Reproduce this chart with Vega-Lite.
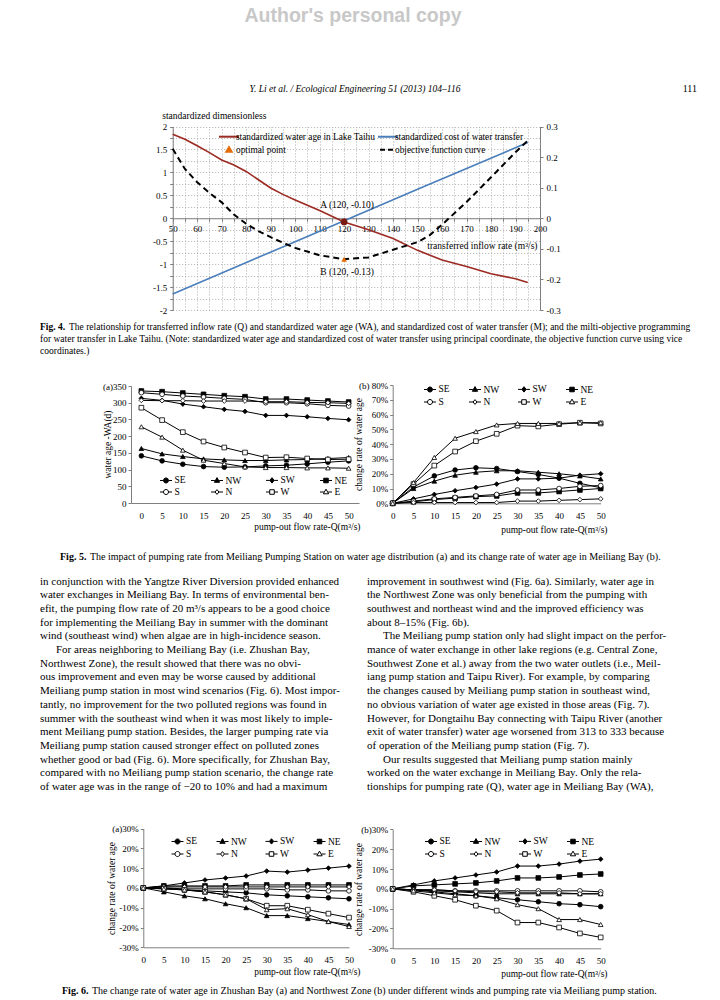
{
"$schema": "https://vega.github.io/schema/vega-lite/v6.json",
"width": 720, "height": 1000, "autosize": {"type": "none"}, "padding": 0, "background": "white",
"config": {
  "view": {"stroke": null},
  "font": "Liberation Serif",
  "axis": {"labelFont": "Liberation Serif", "titleFont": "Liberation Serif", "labelColor": "black", "titleColor": "black", "titleFontWeight": "normal", "labelFontSize": 9, "titleFontSize": 9.5, "domainColor": "#7f7f7f", "tickColor": "#7f7f7f", "labelFlush": false, "labelOverlap": false, "grid": false},
  "legend": {"labelFont": "Liberation Serif", "labelColor": "black"},
  "text": {"font": "Liberation Serif", "color": "black"}
},
"datasets": {
  "f4": [
    {"q":50,"wa":1.83,"obj":0.227,"cost":-1.65},
    {"q":55,"wa":1.72,"obj":0.161},
    {"q":60,"wa":1.58,"obj":0.118},
    {"q":65,"wa":1.43,"obj":0.083},
    {"q":70,"wa":1.27,"obj":0.052},
    {"q":75,"wa":1.16,"obj":0.012},
    {"q":80,"wa":1.02,"obj":-0.018},
    {"q":85,"wa":0.84,"obj":-0.042},
    {"q":90,"wa":0.66,"obj":-0.062},
    {"q":95,"wa":0.52,"obj":-0.08},
    {"q":100,"wa":0.40,"obj":-0.097,"cost":-0.51},
    {"q":110,"wa":0.17,"obj":-0.121},
    {"q":120,"wa":-0.08,"obj":-0.134},
    {"q":130,"wa":-0.25,"obj":-0.128},
    {"q":140,"wa":-0.44,"obj":-0.103},
    {"q":150,"wa":-0.70,"obj":-0.078,"cost":0.63},
    {"q":155,"obj":-0.055},
    {"q":160,"wa":-0.91,"obj":-0.021},
    {"q":170,"wa":-1.05,"obj":0.053},
    {"q":180,"wa":-1.21,"obj":0.134},
    {"q":190,"wa":-1.32,"obj":0.216},
    {"q":195,"wa":-1.40,"obj":0.254,"cost":1.65}
  ],
  "f5a": [
    {"q":0,"SE":141,"NW":163,"SW":313,"NE":335,"S":330,"N":307,"W":285,"E":228},
    {"q":5,"SE":126,"NW":147,"SW":307,"NE":333,"S":325,"N":306,"W":248,"E":197},
    {"q":10,"SE":116,"NW":139,"SW":296,"NE":329,"S":320,"N":306,"W":212,"E":158},
    {"q":15,"SE":109,"NW":132,"SW":288,"NE":325,"S":317,"N":305,"W":184,"E":128},
    {"q":20,"SE":107,"NW":129,"SW":280,"NE":321,"S":313,"N":305,"W":166,"E":118},
    {"q":25,"SE":108,"NW":127,"SW":274,"NE":318,"S":310,"N":305,"W":151,"E":108},
    {"q":30,"SE":111,"NW":127,"SW":262,"NE":311,"S":300,"N":303,"W":136,"E":106},
    {"q":35,"SE":113,"NW":129,"SW":262,"NE":311,"S":300,"N":303,"W":137,"E":106},
    {"q":40,"SE":117,"NW":130,"SW":258,"NE":308,"S":297,"N":301,"W":133,"E":105},
    {"q":45,"SE":122,"NW":133,"SW":253,"NE":305,"S":292,"N":300,"W":130,"E":105},
    {"q":50,"SE":126,"NW":136,"SW":249,"NE":302,"S":290,"N":298,"W":131,"E":104}
  ],
  "f5b": [
    {"q":0,"SE":0,"NW":0,"SW":0,"NE":0,"S":0,"N":0,"W":0,"E":0},
    {"q":5,"SE":11,"NW":10,"SW":3,"NE":1,"S":1.5,"N":0.5,"W":13,"E":14},
    {"q":10,"SE":18.5,"NW":15,"SW":6,"NE":2.5,"S":3,"N":0.5,"W":25.5,"E":31},
    {"q":15,"SE":22.5,"NW":19,"SW":8.5,"NE":3.5,"S":4,"N":0.5,"W":35,"E":44},
    {"q":20,"SE":24,"NW":21,"SW":10.7,"NE":4.5,"S":5,"N":0.5,"W":42,"E":48.5},
    {"q":25,"SE":23.5,"NW":22,"SW":13,"NE":5,"S":6,"N":0.5,"W":47,"E":53},
    {"q":30,"SE":21.5,"NW":22,"SW":16.5,"NE":7,"S":9,"N":1.5,"W":52.5,"E":54},
    {"q":35,"SE":19.5,"NW":21,"SW":16.5,"NE":7,"S":9,"N":1.5,"W":52,"E":54},
    {"q":40,"SE":17,"NW":20,"SW":17,"NE":8,"S":10,"N":2,"W":53.5,"E":54},
    {"q":45,"SE":13.5,"NW":18.5,"SW":19,"NE":9,"S":11.5,"N":2.5,"W":54.5,"E":54.5},
    {"q":50,"SE":10.5,"NW":16.5,"SW":20,"NE":10,"S":12,"N":3,"W":54,"E":54.5}
  ],
  "f6a": [
    {"q":0,"SE":0,"NW":0,"SW":0,"NE":0,"S":0,"N":0,"W":0,"E":0},
    {"q":5,"SE":0,"NW":-2,"SW":1,"NE":1,"S":0,"N":0.5,"W":-0.5,"E":-0.5},
    {"q":10,"SE":-1,"NW":-4,"SW":2.5,"NE":1,"S":-0.5,"N":0.5,"W":-1,"E":-1},
    {"q":15,"SE":-1.5,"NW":-5.5,"SW":4,"NE":1,"S":-0.5,"N":0.5,"W":-2,"E":-2},
    {"q":20,"SE":-2,"NW":-8,"SW":5,"NE":1,"S":-0.5,"N":0.5,"W":-3.5,"E":-3.5},
    {"q":25,"SE":-2.5,"NW":-10,"SW":6,"NE":1.5,"S":-0.5,"N":0.5,"W":-5.5,"E":-5.5},
    {"q":30,"SE":-3.5,"NW":-14,"SW":8.5,"NE":1.5,"S":-0.5,"N":0.5,"W":-9,"E":-11},
    {"q":35,"SE":-4,"NW":-14,"SW":8,"NE":1.5,"S":-1,"N":0.5,"W":-9,"E":-10.5},
    {"q":40,"SE":-4.5,"NW":-15.5,"SW":9,"NE":1.5,"S":-1,"N":0.5,"W":-11,"E":-13.5},
    {"q":45,"SE":-5,"NW":-17,"SW":10,"NE":1.5,"S":-1.5,"N":0.5,"W":-13,"E":-17},
    {"q":50,"SE":-5.5,"NW":-18.5,"SW":11,"NE":1.5,"S":-1.5,"N":0.5,"W":-15,"E":-19.5}
  ],
  "f6b": [
    {"q":0,"SE":0,"NW":0,"SW":0,"NE":0,"S":0,"N":0,"W":0,"E":0},
    {"q":5,"SE":-0.5,"NW":-0.5,"SW":2,"NE":1.5,"S":-0.5,"N":-0.5,"W":-1.5,"E":-1},
    {"q":10,"SE":-1.5,"NW":-1,"SW":4,"NE":2,"S":-0.5,"N":-0.5,"W":-3.5,"E":-2},
    {"q":15,"SE":-2.5,"NW":-1.5,"SW":5.5,"NE":2.5,"S":-1,"N":-1,"W":-5.5,"E":-3},
    {"q":20,"SE":-3.5,"NW":-2,"SW":7,"NE":3,"S":-1,"N":-1.5,"W":-8.5,"E":-3.5},
    {"q":25,"SE":-4.5,"NW":-2.5,"SW":8.5,"NE":4,"S":-1,"N":-1.5,"W":-11,"E":-5},
    {"q":30,"SE":-5.5,"NW":-2.5,"SW":11.5,"NE":5.5,"S":-1,"N":-2,"W":-17,"E":-8},
    {"q":35,"SE":-6.5,"NW":-2.5,"SW":11.5,"NE":5.5,"S":-1,"N":-2,"W":-17,"E":-10},
    {"q":40,"SE":-7.5,"NW":-2.5,"SW":12.5,"NE":6,"S":-1,"N":-2,"W":-19.5,"E":-15.5},
    {"q":45,"SE":-8,"NW":-2.5,"SW":14,"NE":7,"S":-1,"N":-2.5,"W":-22.5,"E":-15.5},
    {"q":50,"SE":-9,"NW":-2.5,"SW":15,"NE":7.5,"S":-1.5,"N":-2.5,"W":-24.5,"E":-18}
  ],
  "body": [
    {"c":0,"l":1,"p":0,"t":"in conjunction with the Yangtze River Diversion provided enhanced"},
    {"c":0,"l":2,"p":0,"t":"water exchanges in Meiliang Bay. In terms of environmental ben-"},
    {"c":0,"l":3,"p":0,"t":"efit, the pumping flow rate of 20 m³/s appears to be a good choice"},
    {"c":0,"l":4,"p":0,"t":"for implementing the Meiliang Bay in summer with the dominant"},
    {"c":0,"l":5,"p":0,"t":"wind (southeast wind) when algae are in high-incidence season."},
    {"c":0,"l":6,"p":1,"t":"For areas neighboring to Meiliang Bay (i.e. Zhushan Bay,"},
    {"c":0,"l":7,"p":0,"t":"Northwest Zone), the result showed that there was no obvi-"},
    {"c":0,"l":8,"p":0,"t":"ous improvement and even may be worse caused by additional"},
    {"c":0,"l":9,"p":0,"t":"Meiliang pump station in most wind scenarios (Fig. 6). Most impor-"},
    {"c":0,"l":10,"p":0,"t":"tantly, no improvement for the two polluted regions was found in"},
    {"c":0,"l":11,"p":0,"t":"summer with the southeast wind when it was most likely to imple-"},
    {"c":0,"l":12,"p":0,"t":"ment Meiliang pump station. Besides, the larger pumping rate via"},
    {"c":0,"l":13,"p":0,"t":"Meiliang pump station caused stronger effect on polluted zones"},
    {"c":0,"l":14,"p":0,"t":"whether good or bad (Fig. 6). More specifically, for Zhushan Bay,"},
    {"c":0,"l":15,"p":0,"t":"compared with no Meiliang pump station scenario, the change rate"},
    {"c":0,"l":16,"p":0,"t":"of water age was in the range of −20 to 10% and had a maximum"},
    {"c":1,"l":1,"p":0,"t":"improvement in southwest wind (Fig. 6a). Similarly, water age in"},
    {"c":1,"l":2,"p":0,"t":"the Northwest Zone was only beneficial from the pumping with"},
    {"c":1,"l":3,"p":0,"t":"southwest and northeast wind and the improved efficiency was"},
    {"c":1,"l":4,"p":0,"t":"about 8–15% (Fig. 6b)."},
    {"c":1,"l":5,"p":1,"t":"The Meiliang pump station only had slight impact on the perfor-"},
    {"c":1,"l":6,"p":0,"t":"mance of water exchange in other lake regions (e.g. Central Zone,"},
    {"c":1,"l":7,"p":0,"t":"Southwest Zone et al.) away from the two water outlets (i.e., Meil-"},
    {"c":1,"l":8,"p":0,"t":"iang pump station and Taipu River). For example, by comparing"},
    {"c":1,"l":9,"p":0,"t":"the changes caused by Meiliang pump station in southeast wind,"},
    {"c":1,"l":10,"p":0,"t":"no obvious variation of water age existed in those areas (Fig. 7)."},
    {"c":1,"l":11,"p":0,"t":"However, for Dongtaihu Bay connecting with Taipu River (another"},
    {"c":1,"l":12,"p":0,"t":"exit of water transfer) water age worsened from 313 to 333 because"},
    {"c":1,"l":13,"p":0,"t":"of operation of the Meiliang pump station (Fig. 7)."},
    {"c":1,"l":14,"p":1,"t":"Our results suggested that Meiliang pump station mainly"},
    {"c":1,"l":15,"p":0,"t":"worked on the water exchange in Meiliang Bay. Only the rela-"},
    {"c":1,"l":16,"p":0,"t":"tionships for pumping rate (Q), water age in Meiliang Bay (WA),"}
  ]
},
"layer": [
  {"data": {"values": [{"c":0.5,"l":0,"t":"Author's personal copy"}]},
   "mark": {"type":"text","font":"Liberation Sans","fontWeight":"bold","fontSize":19.5,"color":"#c8c8c8","align":"center","baseline":"middle"},
   "encoding": {"x": {"field":"c","type":"quantitative","scale":{"domain":[0,1],"range":[0,706],"zero":false,"nice":false},"axis":null},
                "y": {"field":"l","type":"quantitative","scale":{"domain":[0,1],"range":[16,89],"zero":false,"nice":false},"axis":null},
                "text": {"field":"t"}}},
  {"data": {"values": [{"c":0.5,"l":1,"t":"Y. Li et al. / Ecological Engineering 51 (2013) 104–116"}]},
   "mark": {"type":"text","fontStyle":"italic","fontSize":9.5,"align":"center","baseline":"middle"},
   "encoding": {"x": {"field":"c","type":"quantitative","scale":{"domain":[0,1],"range":[0,710],"zero":false,"nice":false},"axis":null},
                "y": {"field":"l","type":"quantitative","scale":{"domain":[0,1],"range":[16,89],"zero":false,"nice":false},"axis":null},
                "text": {"field":"t"}}},
  {"data": {"values": [{"c":1,"l":1,"t":"111"}]},
   "mark": {"type":"text","fontSize":10,"align":"right","baseline":"middle"},
   "encoding": {"x": {"field":"c","type":"quantitative","scale":{"domain":[0,1],"range":[0,697],"zero":false,"nice":false},"axis":null},
                "y": {"field":"l","type":"quantitative","scale":{"domain":[0,1],"range":[16,89],"zero":false,"nice":false},"axis":null},
                "text": {"field":"t"}}},

  {"data": {"name": "f4"},
   "layer": [
     {"encoding": {"x": {"field":"q","type":"quantitative",
        "scale":{"domain":[50,200],"range":[172.7,540],"nice":false,"zero":false},
        "axis":{"orient":"bottom","offset":-781.75,"values":[50,55,60,65,70,75,80,85,90,95,100,105,110,115,120,125,130,135,140,145,150,155,160,165,170,175,180,185,190,195,200],
                "labelExpr":"datum.value % 10 === 0 ? datum.label : ''","grid":false,
                "tickSize":3,"labelPadding":3,"labelFontSize":9,"title":"transferred inflow rate (m³/s)","titleX":537,"titleY":27,"titleAlign":"right","titleBaseline":"middle","titleFontSize":9.5}}},
      "layer": [
        {"transform": [{"filter": "isValid(datum.cost)"}],
         "mark": {"type":"line","color":"#4a7ebb","strokeWidth":1.6},
         "encoding": {"y": {"field":"cost","type":"quantitative","scale":{"domain":[-2,2],"range":[310,126.5],"nice":false,"zero":false},
            "axis":{"orient":"left","offset":-172.7,"values":[-2,-1.75,-1.5,-1.25,-1,-0.75,-0.5,-0.25,0,0.25,0.5,0.75,1,1.25,1.5,1.75,2],
                    "labelExpr":"datum.value % 0.5 === 0 ? '' + datum.value : ''","grid":true,"gridColor":"#9a9a9a","gridDash":[1,2],"gridWidth":0.8,
                    "tickSize":3,"labelPadding":3,"labelFontSize":9,"title":"standardized dimensionless","titleAngle":0,"titleX":-11,"titleY":115,"titleAlign":"left","titleBaseline":"middle","titleFontSize":9.5}}}},
        {"transform": [{"filter": "isValid(datum.wa)"}],
         "mark": {"type":"line","color":"#9c2a22","strokeWidth":1.6},
         "encoding": {"y": {"field":"wa","type":"quantitative"}}},
        {"data": {"values": [{"q":120,"v":-0.08,"t":"A (120, -0.10)"}]},
         "mark": {"type":"point","filled":true,"color":"#7a1a12","size":45,"opacity":1},
         "encoding": {"y": {"field":"v","type":"quantitative"}}},
        {"data": {"values": [{"q":120,"v":-0.08,"t":"A (120, -0.10)"}]},
         "mark": {"type":"text","dy":-17,"dx":3,"fontSize":9.5,"align":"center","baseline":"middle"},
         "encoding": {"y": {"field":"v","type":"quantitative"},"text":{"field":"t"}}}
      ]},
     {"encoding": {"x": {"field":"q","type":"quantitative",
        "axis":{"orient":"top","offset":0,"values":[50,55,60,65,70,75,80,85,90,95,100,105,110,115,120,125,130,135,140,145,150,155,160,165,170,175,180,185,190,195,200],
                "grid":true,"gridColor":"#9a9a9a","gridDash":[1,2],"gridWidth":0.8,"labels":false,"ticks":false,"domain":false,"title":null}}},
      "layer": [
        {"transform": [{"filter": "isValid(datum.obj)"}],
         "mark": {"type":"line","color":"black","strokeWidth":2,"strokeDash":[6,4]},
         "encoding": {"y": {"field":"obj","type":"quantitative","scale":{"domain":[-0.3,0.3],"range":[310,126.5],"nice":false,"zero":false},
            "axis":{"orient":"right","offset":-180,"values":[-0.3,-0.2,-0.1,0,0.1,0.2,0.3],"labelExpr":"'' + datum.value","grid":false,"tickSize":3,"labelPadding":3,"labelFontSize":9,"title":null}}}},
        {"data": {"values": [{"q":120,"v":-0.134,"t":"B (120, -0.13)"}]},
         "mark": {"type":"point","filled":true,"shape":"triangle-up","color":"#e46c0a","size":32,"opacity":1},
         "encoding": {"y": {"field":"v","type":"quantitative"}}},
        {"data": {"values": [{"q":120,"v":-0.134,"t":"B (120, -0.13)"}]},
         "mark": {"type":"text","dy":13,"dx":3,"fontSize":9.5,"align":"center","baseline":"middle"},
         "encoding": {"y": {"field":"v","type":"quantitative"},"text":{"field":"t"}}}
      ]},
     {"data": {"values": [{"s":"standardized water age in Lake Taihu"},{"s":"optimal point"}]},
      "mark": {"type":"point","filled":true,"opacity":0},
      "encoding": {
        "color": {"field":"s","type":"nominal","scale":{"domain":["standardized water age in Lake Taihu","optimal point"],"range":["#9c2a22","#e46c0a"]},
                  "legend":{"title":null,"orient":"none","legendX":220,"legendY":127.7,"symbolSize":144,"symbolStrokeWidth":2,"symbolOpacity":1,"labelFontSize":9.3,"labelOffset":0,"rowPadding":0,"padding":2,"labelLimit":300}},
        "stroke": {"field":"s","type":"nominal","scale":{"domain":["standardized water age in Lake Taihu","optimal point"],"range":["#9c2a22","#e46c0a"]},
                  "legend":{"title":null,"orient":"none","legendX":220,"legendY":127.7,"symbolSize":144,"symbolStrokeWidth":2,"symbolOpacity":1,"labelFontSize":9.3,"labelOffset":0,"rowPadding":0,"padding":2,"labelLimit":300}},
        "shape": {"field":"s","type":"nominal","scale":{"domain":["standardized water age in Lake Taihu","optimal point"],"range":["M-1.67,0H1.67","M0,-0.42L0.45,0.36L-0.45,0.36Z"]},
                  "legend":{"title":null,"orient":"none","legendX":220,"legendY":127.7,"symbolSize":144,"symbolStrokeWidth":2,"symbolOpacity":1,"labelFontSize":9.3,"labelOffset":0,"rowPadding":0,"padding":2,"labelLimit":300}}
      }},
     {"data": {"values": [{"s":"standardized cost of water transfer"},{"s":"objective function curve"}]},
      "mark": {"type":"point","filled":true,"opacity":0},
      "encoding": {
        "color": {"field":"s","type":"nominal","scale":{"domain":["standardized cost of water transfer","objective function curve"],"range":["#4a7ebb","#000000"]},
                  "legend":{"title":null,"orient":"none","legendX":379,"legendY":127.7,"symbolSize":144,"symbolStrokeWidth":2,"symbolOpacity":1,"labelFontSize":9.3,"labelOffset":0,"rowPadding":0,"padding":2,"labelLimit":300}},
        "stroke": {"field":"s","type":"nominal","scale":{"domain":["standardized cost of water transfer","objective function curve"],"range":["#4a7ebb","#000000"]},
                  "legend":{"title":null,"orient":"none","legendX":379,"legendY":127.7,"symbolSize":144,"symbolStrokeWidth":2,"symbolOpacity":1,"labelFontSize":9.3,"labelOffset":0,"rowPadding":0,"padding":2,"labelLimit":300}},
        "shape": {"field":"s","type":"nominal","scale":{"domain":["standardized cost of water transfer","objective function curve"],"range":["M-1.67,0H1.67","M-1.33,0H1.33"]},
                  "legend":{"title":null,"orient":"none","legendX":379,"legendY":127.7,"symbolSize":144,"symbolStrokeWidth":2,"symbolOpacity":1,"labelFontSize":9.3,"labelOffset":0,"rowPadding":0,"padding":2,"labelLimit":300}},
        "strokeDash": {"field":"s","type":"nominal","scale":{"domain":["standardized cost of water transfer","objective function curve"],"range":[[1,0],[5,3]]},
                  "legend":{"title":null,"orient":"none","legendX":379,"legendY":127.7,"symbolSize":144,"symbolStrokeWidth":2,"symbolOpacity":1,"labelFontSize":9.3,"labelOffset":0,"rowPadding":0,"padding":2,"labelLimit":300}}
      }}
   ],
   "resolve": {"scale": {"y": "independent", "color": "independent", "stroke": "independent", "shape": "independent", "strokeDash": "independent"}, "axis": {"x": "independent"}}
  },

  {"data": {"values": [{"c":0,"l":1,"t":"Fig. 4."}]},
   "mark": {"type":"text","fontSize":9.5,"fontWeight":"bold","align":"left","baseline":"middle"},
   "encoding": {"x": {"field":"c","type":"quantitative","scale":{"domain":[0,1],"range":[40,680],"zero":false,"nice":false},"axis":null},
                "y": {"field":"l","type":"quantitative","scale":{"domain":[1,3],"range":[327,351],"zero":false,"nice":false},"axis":null},
                "text": {"field":"t"}}},
  {"data": {"values": [{"c":0,"l":1,"t":"The relationship for transferred inflow rate (Q) and standardized water age (WA), and standardized cost of water transfer (M); and the milti-objective programming"}]},
   "mark": {"type":"text","fontSize":9.5,"align":"left","baseline":"middle","dx":29},
   "encoding": {"x": {"field":"c","type":"quantitative","scale":{"domain":[0,1],"range":[40,680],"zero":false,"nice":false},"axis":null},
                "y": {"field":"l","type":"quantitative","scale":{"domain":[1,3],"range":[327,351],"zero":false,"nice":false},"axis":null},
                "text": {"field":"t"}}},
  {"data": {"values": [{"c":0,"l":2,"t":"for water transfer in Lake Taihu. (Note: standardized water age and standardized cost of water transfer using principal coordinate, the objective function curve using vice"},{"c":0,"l":3,"t":"coordinates.)"}]},
   "mark": {"type":"text","fontSize":9.5,"align":"left","baseline":"middle"},
   "encoding": {"x": {"field":"c","type":"quantitative","scale":{"domain":[0,1],"range":[40,680],"zero":false,"nice":false},"axis":null},
                "y": {"field":"l","type":"quantitative","scale":{"domain":[1,3],"range":[327,351],"zero":false,"nice":false},"axis":null},
                "text": {"field":"t"}}},

  {"data": {"name": "f5a"},
   "transform": [{"fold": ["SE","NW","SW","NE","S","N","W","E"], "as": ["s","v"]}],
   "encoding": {
     "x": {"field":"q","type":"quantitative","scale":{"domain":[-2.5,52.5],"range":[131,359],"nice":false,"zero":false},
           "axis":{"orient":"bottom","offset":-497,"values":[0,5,10,15,20,25,30,35,40,45,50],"ticks":false,"labelPadding":8,"title":"pump-out flow rate-Q(m³/s)","titleX":360,"titleY":23,"titleAlign":"right","titleBaseline":"middle"}},
     "y": {"field":"v","type":"quantitative","scale":{"domain":[0,350],"range":[503,386],"nice":false,"zero":false},
           "axis":{"orient":"left","offset":-131,"values":[0,50,100,150,200,250,300,350],"labelExpr":"datum.value === 350 ? '(a)' + datum.label : datum.label","tickSize":3,"labelPadding":2,"title":"water age -WA(d)","titleX":-24,"titleY":444,"titleAngle":-90,"titleAlign":"center","titleBaseline":"middle"}}
   },
   "layer": [
     {"mark": {"type":"line","color":"black","strokeWidth":1}, "encoding": {"detail": {"field":"s"}}},
     {"mark": {"type":"point","filled":true,"stroke":"black","strokeWidth":0.8,"size":22,"opacity":1},
      "encoding": {"color": {"field":"s","type":"nominal","scale":{"domain":["SE","NW","SW","NE","S","N","W","E"],"range":["black","black","black","black","white","white","white","white"]},"legend":null},
                   "shape": {"field":"s","type":"nominal","scale":{"domain":["SE","NW","SW","NE","S","N","W","E"],"range":["circle","triangle-up","diamond","square","circle","diamond","square","triangle-up"]},"legend":null}}},
     {"mark": {"type":"point","filled":true,"opacity":0},
      "encoding": {
        "color": {"field":"s","type":"nominal","scale":{"domain":["SE","NW","SW","NE","S","N","W","E"],"range":["black","black","black","black","white","white","white","white"]},
          "legend":{"title":null,"orient":"none","direction":"horizontal","legendX":159.5,"legendY":473.5,"columns":4,"symbolSize":144,"symbolStrokeWidth":1,"symbolOpacity":1,"labelFontSize":9.5,"labelOffset":2,"columnPadding":22,"rowPadding":0,"padding":0}},
        "stroke": {"field":"s","type":"nominal","scale":{"domain":["SE","NW","SW","NE","S","N","W","E"],"range":["black","black","black","black","black","black","black","black"]},
          "legend":{"title":null,"orient":"none","direction":"horizontal","legendX":159.5,"legendY":473.5,"columns":4,"symbolSize":144,"symbolStrokeWidth":1,"symbolOpacity":1,"labelFontSize":9.5,"labelOffset":2,"columnPadding":22,"rowPadding":0,"padding":0}},
        "shape": {"field":"s","type":"nominal","scale":{"domain":["SE","NW","SW","NE","S","N","W","E"],"range":[
           "M-1,0H-0.42M0.42,0H1M0.42,0A0.42,0.42,0,1,1,-0.42,0A0.42,0.42,0,1,1,0.42,0Z",
           "M-1,0H-0.35M0.35,0H1M0,-0.48L0.44,0.3L-0.44,0.3Z",
           "M-1,0H-0.36M0.36,0H1M0,-0.45L0.36,0L0,0.45L-0.36,0Z",
           "M-1,0H-0.38M0.38,0H1M-0.38,-0.38H0.38V0.38H-0.38Z",
           "M-1,0H-0.42M0.42,0H1M0.42,0A0.42,0.42,0,1,1,-0.42,0A0.42,0.42,0,1,1,0.42,0Z",
           "M-1,0H-0.32M0.32,0H1M0,-0.4L0.32,0L0,0.4L-0.32,0Z",
           "M-1,0H-0.38M0.38,0H1M-0.38,-0.38H0.38V0.38H-0.38Z",
           "M-1,0H-0.35M0.35,0H1M0,-0.48L0.44,0.3L-0.44,0.3Z"]},
          "legend":{"title":null,"orient":"none","direction":"horizontal","legendX":159.5,"legendY":473.5,"columns":4,"symbolSize":144,"symbolStrokeWidth":1,"symbolOpacity":1,"labelFontSize":9.5,"labelOffset":2,"columnPadding":22,"rowPadding":0,"padding":0}}}}
   ],
   "resolve": {"scale": {"color": "independent", "shape": "independent", "stroke": "independent"}}
  },

  {"data": {"name": "f5b"},
   "transform": [{"fold": ["SE","NW","SW","NE","S","N","W","E"], "as": ["s","v"]}],
   "encoding": {
     "x": {"field":"q","type":"quantitative","scale":{"domain":[0,50],"range":[392.7,600.7],"nice":false,"zero":false},
           "axis":{"orient":"bottom","offset":-496.7,"values":[0,5,10,15,20,25,30,35,40,45,50],"ticks":false,"labelPadding":8,"title":"pump-out flow rate-Q(m³/s)","titleX":607,"titleY":26,"titleAlign":"right","titleBaseline":"middle"}},
     "y": {"field":"v","type":"quantitative","scale":{"domain":[0,80],"range":[503.3,385],"nice":false,"zero":false},
           "axis":{"orient":"left","offset":-392.7,"values":[0,10,20,30,40,50,60,70,80],"labelExpr":"datum.value === 80 ? '(b) 80%' : datum.value + '%'","tickSize":3,"labelPadding":2,"title":"change rate of water age","titleX":-34.7,"titleY":444,"titleAngle":-90,"titleAlign":"center","titleBaseline":"middle"}}
   },
   "layer": [
     {"mark": {"type":"line","color":"black","strokeWidth":1}, "encoding": {"detail": {"field":"s"}}},
     {"mark": {"type":"point","filled":true,"stroke":"black","strokeWidth":0.8,"size":22,"opacity":1},
      "encoding": {"color": {"field":"s","type":"nominal","scale":{"domain":["SE","NW","SW","NE","S","N","W","E"],"range":["black","black","black","black","white","white","white","white"]},"legend":null},
                   "shape": {"field":"s","type":"nominal","scale":{"domain":["SE","NW","SW","NE","S","N","W","E"],"range":["circle","triangle-up","diamond","square","circle","diamond","square","triangle-up"]},"legend":null}}},
     {"mark": {"type":"point","filled":true,"opacity":0},
      "encoding": {
        "color": {"field":"s","type":"nominal","scale":{"domain":["SE","NW","SW","NE","S","N","W","E"],"range":["black","black","black","black","white","white","white","white"]},
          "legend":{"title":null,"orient":"none","direction":"horizontal","legendX":423.5,"legendY":382.5,"columns":4,"symbolSize":144,"symbolStrokeWidth":1,"symbolOpacity":1,"labelFontSize":9.5,"labelOffset":2,"columnPadding":16,"rowPadding":1,"padding":0}},
        "stroke": {"field":"s","type":"nominal","scale":{"domain":["SE","NW","SW","NE","S","N","W","E"],"range":["black","black","black","black","black","black","black","black"]},
          "legend":{"title":null,"orient":"none","direction":"horizontal","legendX":423.5,"legendY":382.5,"columns":4,"symbolSize":144,"symbolStrokeWidth":1,"symbolOpacity":1,"labelFontSize":9.5,"labelOffset":2,"columnPadding":16,"rowPadding":1,"padding":0}},
        "shape": {"field":"s","type":"nominal","scale":{"domain":["SE","NW","SW","NE","S","N","W","E"],"range":[
           "M-1,0H-0.42M0.42,0H1M0.42,0A0.42,0.42,0,1,1,-0.42,0A0.42,0.42,0,1,1,0.42,0Z",
           "M-1,0H-0.35M0.35,0H1M0,-0.48L0.44,0.3L-0.44,0.3Z",
           "M-1,0H-0.36M0.36,0H1M0,-0.45L0.36,0L0,0.45L-0.36,0Z",
           "M-1,0H-0.38M0.38,0H1M-0.38,-0.38H0.38V0.38H-0.38Z",
           "M-1,0H-0.42M0.42,0H1M0.42,0A0.42,0.42,0,1,1,-0.42,0A0.42,0.42,0,1,1,0.42,0Z",
           "M-1,0H-0.32M0.32,0H1M0,-0.4L0.32,0L0,0.4L-0.32,0Z",
           "M-1,0H-0.38M0.38,0H1M-0.38,-0.38H0.38V0.38H-0.38Z",
           "M-1,0H-0.35M0.35,0H1M0,-0.48L0.44,0.3L-0.44,0.3Z"]},
          "legend":{"title":null,"orient":"none","direction":"horizontal","legendX":423.5,"legendY":382.5,"columns":4,"symbolSize":144,"symbolStrokeWidth":1,"symbolOpacity":1,"labelFontSize":9.5,"labelOffset":2,"columnPadding":16,"rowPadding":1,"padding":0}}}}
   ],
   "resolve": {"scale": {"color": "independent", "shape": "independent", "stroke": "independent"}}
  },

  {"data": {"values": [{"c":0,"l":1,"t":"Fig. 5."}]},
   "mark": {"type":"text","fontSize":10,"fontWeight":"bold","align":"left","baseline":"middle"},
   "encoding": {"x": {"field":"c","type":"quantitative","scale":{"domain":[0,1],"range":[60,680],"zero":false,"nice":false},"axis":null},
                "y": {"field":"l","type":"quantitative","scale":{"domain":[1,2],"range":[557,600],"zero":false,"nice":false},"axis":null},
                "text": {"field":"t"}}},
  {"data": {"values": [{"c":0,"l":1,"t":"The impact of pumping rate from Meiliang Pumping Station on water age distribution (a) and its change rate of water age in Meiliang Bay (b)."}]},
   "mark": {"type":"text","fontSize":10,"align":"left","baseline":"middle","dx":30},
   "encoding": {"x": {"field":"c","type":"quantitative","scale":{"domain":[0,1],"range":[60,680],"zero":false,"nice":false},"axis":null},
                "y": {"field":"l","type":"quantitative","scale":{"domain":[1,2],"range":[557,600],"zero":false,"nice":false},"axis":null},
                "text": {"field":"t"}}},

  {"data": {"name": "body"},
   "transform": [{"filter": "datum.p !== 1"}],
   "mark": {"type":"text","fontSize":11,"align":"left","baseline":"middle"},
   "encoding": {"x": {"field":"c","type":"quantitative","scale":{"domain":[0,1],"range":[40,367],"zero":false,"nice":false},"axis":null},
                "y": {"field":"l","type":"quantitative","scale":{"domain":[1,16],"range":[581.5,787],"zero":false,"nice":false},"axis":null},
                "text": {"field":"t"}}},
  {"data": {"name": "body"},
   "transform": [{"filter": "datum.p === 1"}],
   "mark": {"type":"text","fontSize":11,"align":"left","baseline":"middle","dx":16},
   "encoding": {"x": {"field":"c","type":"quantitative","scale":{"domain":[0,1],"range":[40,367],"zero":false,"nice":false},"axis":null},
                "y": {"field":"l","type":"quantitative","scale":{"domain":[1,16],"range":[581.5,787],"zero":false,"nice":false},"axis":null},
                "text": {"field":"t"}}},

  {"data": {"name": "f6a"},
   "transform": [{"fold": ["SE","NW","SW","NE","S","N","W","E"], "as": ["s","v"]}],
   "encoding": {
     "x": {"field":"q","type":"quantitative","scale":{"domain":[0,50],"range":[143.3,349],"nice":false,"zero":false},
           "axis":{"orient":"bottom","offset":-52.7,"values":[0,5,10,15,20,25,30,35,40,45,50],"ticks":false,"labelPadding":8,"title":"pump-out flow rate-Q(m³/s)","titleX":360,"titleY":24,"titleAlign":"right","titleBaseline":"middle"}},
     "y": {"field":"v","type":"quantitative","scale":{"domain":[-30,30],"range":[947.3,828.5],"nice":false,"zero":false},
           "axis":{"orient":"left","offset":-143.3,"values":[-30,-20,-10,0,10,20,30],"labelExpr":"datum.value === 30 ? '(a)30%' : datum.value + '%'","tickSize":3,"labelPadding":2,"title":"change rate of water age","titleX":-31.6,"titleY":888,"titleAngle":-90,"titleAlign":"center","titleBaseline":"middle"}}
   },
   "layer": [
     {"mark": {"type":"line","color":"black","strokeWidth":1}, "encoding": {"detail": {"field":"s"}}},
     {"mark": {"type":"point","filled":true,"stroke":"black","strokeWidth":0.8,"size":22,"opacity":1},
      "encoding": {"color": {"field":"s","type":"nominal","scale":{"domain":["SE","NW","SW","NE","S","N","W","E"],"range":["black","black","black","black","white","white","white","white"]},"legend":null},
                   "shape": {"field":"s","type":"nominal","scale":{"domain":["SE","NW","SW","NE","S","N","W","E"],"range":["circle","triangle-up","diamond","square","circle","diamond","square","triangle-up"]},"legend":null}}},
     {"mark": {"type":"point","filled":true,"opacity":0},
      "encoding": {
        "color": {"field":"s","type":"nominal","scale":{"domain":["SE","NW","SW","NE","S","N","W","E"],"range":["black","black","black","black","white","white","white","white"]},
          "legend":{"title":null,"orient":"none","direction":"horizontal","legendX":171,"legendY":834.5,"columns":4,"symbolSize":144,"symbolStrokeWidth":1,"symbolOpacity":1,"labelFontSize":9.5,"labelOffset":2,"columnPadding":16,"rowPadding":1,"padding":0}},
        "stroke": {"field":"s","type":"nominal","scale":{"domain":["SE","NW","SW","NE","S","N","W","E"],"range":["black","black","black","black","black","black","black","black"]},
          "legend":{"title":null,"orient":"none","direction":"horizontal","legendX":171,"legendY":834.5,"columns":4,"symbolSize":144,"symbolStrokeWidth":1,"symbolOpacity":1,"labelFontSize":9.5,"labelOffset":2,"columnPadding":16,"rowPadding":1,"padding":0}},
        "shape": {"field":"s","type":"nominal","scale":{"domain":["SE","NW","SW","NE","S","N","W","E"],"range":[
           "M-1,0H-0.42M0.42,0H1M0.42,0A0.42,0.42,0,1,1,-0.42,0A0.42,0.42,0,1,1,0.42,0Z",
           "M-1,0H-0.35M0.35,0H1M0,-0.48L0.44,0.3L-0.44,0.3Z",
           "M-1,0H-0.36M0.36,0H1M0,-0.45L0.36,0L0,0.45L-0.36,0Z",
           "M-1,0H-0.38M0.38,0H1M-0.38,-0.38H0.38V0.38H-0.38Z",
           "M-1,0H-0.42M0.42,0H1M0.42,0A0.42,0.42,0,1,1,-0.42,0A0.42,0.42,0,1,1,0.42,0Z",
           "M-1,0H-0.32M0.32,0H1M0,-0.4L0.32,0L0,0.4L-0.32,0Z",
           "M-1,0H-0.38M0.38,0H1M-0.38,-0.38H0.38V0.38H-0.38Z",
           "M-1,0H-0.35M0.35,0H1M0,-0.48L0.44,0.3L-0.44,0.3Z"]},
          "legend":{"title":null,"orient":"none","direction":"horizontal","legendX":171,"legendY":834.5,"columns":4,"symbolSize":144,"symbolStrokeWidth":1,"symbolOpacity":1,"labelFontSize":9.5,"labelOffset":2,"columnPadding":16,"rowPadding":1,"padding":0}}}}
   ],
   "resolve": {"scale": {"color": "independent", "shape": "independent", "stroke": "independent"}}
  },

  {"data": {"name": "f6b"},
   "transform": [{"fold": ["SE","NW","SW","NE","S","N","W","E"], "as": ["s","v"]}],
   "encoding": {
     "x": {"field":"q","type":"quantitative","scale":{"domain":[0,50],"range":[392.7,600.7],"nice":false,"zero":false},
           "axis":{"orient":"bottom","offset":-51.7,"values":[0,5,10,15,20,25,30,35,40,45,50],"ticks":false,"labelPadding":8,"title":"pump-out flow rate-Q(m³/s)","titleX":607,"titleY":25,"titleAlign":"right","titleBaseline":"middle"}},
     "y": {"field":"v","type":"quantitative","scale":{"domain":[-30,30],"range":[948.3,829.4],"nice":false,"zero":false},
           "axis":{"orient":"left","offset":-392.7,"values":[-30,-20,-10,0,10,20,30],"labelExpr":"datum.value === 30 ? '(b)30%' : datum.value + '%'","tickSize":3,"labelPadding":2,"title":"change rate of water age","titleX":-34.7,"titleY":889,"titleAngle":-90,"titleAlign":"center","titleBaseline":"middle"}}
   },
   "layer": [
     {"mark": {"type":"line","color":"black","strokeWidth":1}, "encoding": {"detail": {"field":"s"}}},
     {"mark": {"type":"point","filled":true,"stroke":"black","strokeWidth":0.8,"size":22,"opacity":1},
      "encoding": {"color": {"field":"s","type":"nominal","scale":{"domain":["SE","NW","SW","NE","S","N","W","E"],"range":["black","black","black","black","white","white","white","white"]},"legend":null},
                   "shape": {"field":"s","type":"nominal","scale":{"domain":["SE","NW","SW","NE","S","N","W","E"],"range":["circle","triangle-up","diamond","square","circle","diamond","square","triangle-up"]},"legend":null}}},
     {"mark": {"type":"point","filled":true,"opacity":0},
      "encoding": {
        "color": {"field":"s","type":"nominal","scale":{"domain":["SE","NW","SW","NE","S","N","W","E"],"range":["black","black","black","black","white","white","white","white"]},
          "legend":{"title":null,"orient":"none","direction":"horizontal","legendX":424.5,"legendY":834.5,"columns":4,"symbolSize":144,"symbolStrokeWidth":1,"symbolOpacity":1,"labelFontSize":9.5,"labelOffset":2,"columnPadding":16,"rowPadding":1,"padding":0}},
        "stroke": {"field":"s","type":"nominal","scale":{"domain":["SE","NW","SW","NE","S","N","W","E"],"range":["black","black","black","black","black","black","black","black"]},
          "legend":{"title":null,"orient":"none","direction":"horizontal","legendX":424.5,"legendY":834.5,"columns":4,"symbolSize":144,"symbolStrokeWidth":1,"symbolOpacity":1,"labelFontSize":9.5,"labelOffset":2,"columnPadding":16,"rowPadding":1,"padding":0}},
        "shape": {"field":"s","type":"nominal","scale":{"domain":["SE","NW","SW","NE","S","N","W","E"],"range":[
           "M-1,0H-0.42M0.42,0H1M0.42,0A0.42,0.42,0,1,1,-0.42,0A0.42,0.42,0,1,1,0.42,0Z",
           "M-1,0H-0.35M0.35,0H1M0,-0.48L0.44,0.3L-0.44,0.3Z",
           "M-1,0H-0.36M0.36,0H1M0,-0.45L0.36,0L0,0.45L-0.36,0Z",
           "M-1,0H-0.38M0.38,0H1M-0.38,-0.38H0.38V0.38H-0.38Z",
           "M-1,0H-0.42M0.42,0H1M0.42,0A0.42,0.42,0,1,1,-0.42,0A0.42,0.42,0,1,1,0.42,0Z",
           "M-1,0H-0.32M0.32,0H1M0,-0.4L0.32,0L0,0.4L-0.32,0Z",
           "M-1,0H-0.38M0.38,0H1M-0.38,-0.38H0.38V0.38H-0.38Z",
           "M-1,0H-0.35M0.35,0H1M0,-0.48L0.44,0.3L-0.44,0.3Z"]},
          "legend":{"title":null,"orient":"none","direction":"horizontal","legendX":424.5,"legendY":834.5,"columns":4,"symbolSize":144,"symbolStrokeWidth":1,"symbolOpacity":1,"labelFontSize":9.5,"labelOffset":2,"columnPadding":16,"rowPadding":1,"padding":0}}}}
   ],
   "resolve": {"scale": {"color": "independent", "shape": "independent", "stroke": "independent"}}
  },

  {"data": {"values": [{"c":0,"l":1,"t":"Fig. 6."}]},
   "mark": {"type":"text","fontSize":10,"fontWeight":"bold","align":"left","baseline":"middle"},
   "encoding": {"x": {"field":"c","type":"quantitative","scale":{"domain":[0,1],"range":[62,680],"zero":false,"nice":false},"axis":null},
                "y": {"field":"l","type":"quantitative","scale":{"domain":[1,2],"range":[991,1040],"zero":false,"nice":false},"axis":null},
                "text": {"field":"t"}}},
  {"data": {"values": [{"c":0,"l":1,"t":"The change rate of water age in Zhushan Bay (a) and Northwest Zone (b) under different winds and pumping rate via Meiliang pump station."}]},
   "mark": {"type":"text","fontSize":10,"align":"left","baseline":"middle","dx":30},
   "encoding": {"x": {"field":"c","type":"quantitative","scale":{"domain":[0,1],"range":[62,680],"zero":false,"nice":false},"axis":null},
                "y": {"field":"l","type":"quantitative","scale":{"domain":[1,2],"range":[991,1040],"zero":false,"nice":false},"axis":null},
                "text": {"field":"t"}}}
],
"resolve": {"scale": {"x": "independent", "y": "independent", "color": "independent", "shape": "independent", "stroke": "independent", "strokeDash": "independent", "size": "independent", "opacity": "independent", "fill": "independent"}}
}
